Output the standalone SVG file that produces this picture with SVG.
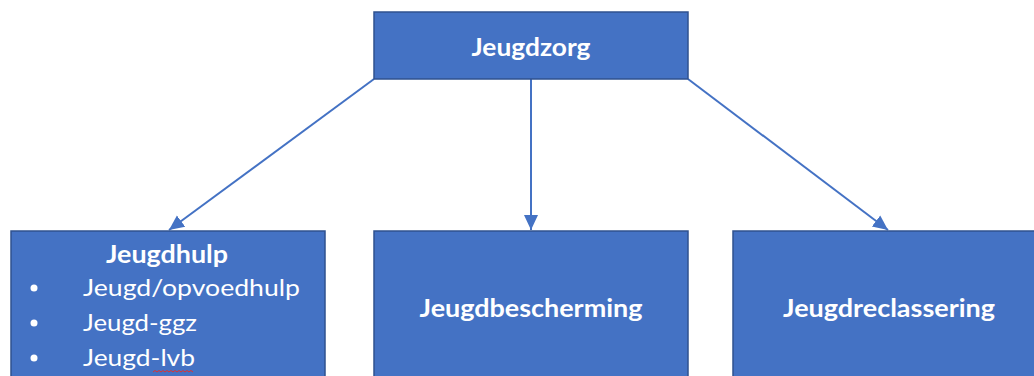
<svg xmlns="http://www.w3.org/2000/svg" width="1034" height="376" viewBox="0 0 1034 376">
<style>
.box{fill:#4472C4;stroke:#2F528F;stroke-width:1.5}
.t{font-family:Lato,"Open Sans","Liberation Sans",sans-serif;fill:#fff;font-size:24px}
.b{font-weight:bold}
.c{stroke:#4472C4;stroke-width:2;fill:none}
</style>
<defs>
<marker id="ah" markerUnits="userSpaceOnUse" markerWidth="16" markerHeight="16" viewBox="0 0 16 16" refX="15" refY="8" orient="auto">
<path d="M0,1 L15,8 L0,15 Z" fill="#4472C4"/>
</marker>
</defs>
<rect width="1034" height="376" fill="#fff"/>
<g id="connectors">
<line class="c" x1="374" y1="79" x2="169" y2="230" marker-end="url(#ah)"/>
<line class="c" x1="531" y1="79" x2="531" y2="230" marker-end="url(#ah)"/>
<line class="c" x1="688" y1="79" x2="888" y2="230" marker-end="url(#ah)"/>
</g>
<g id="jeugdzorg">
<rect class="box" x="374" y="12" width="314" height="67"/>
<text class="t b" x="531" y="56" text-anchor="middle" textLength="119" lengthAdjust="spacingAndGlyphs">Jeugdzorg</text>
</g>
<g id="jeugdhulp">
<rect class="box" x="11" y="231" width="314" height="160"/>
<text class="t b" x="167" y="263" text-anchor="middle" textLength="122" lengthAdjust="spacingAndGlyphs">Jeugdhulp</text>
<circle cx="34" cy="288" r="3.5" fill="#fff"/>
<circle cx="34" cy="323" r="3.5" fill="#fff"/>
<circle cx="34" cy="358" r="3.5" fill="#fff"/>
<text class="t" x="83" y="296" textLength="217" lengthAdjust="spacingAndGlyphs">Jeugd/opvoedhulp</text>
<text class="t" x="83" y="331" textLength="114" lengthAdjust="spacingAndGlyphs">Jeugd-ggz</text>
<text class="t" x="83" y="366" textLength="112" lengthAdjust="spacingAndGlyphs">Jeugd-lvb</text>
<path d="M153,372 l2,-1.5 l2,1.5 l2,-1.5 l2,1.5 l2,-1.5 l2,1.5 l2,-1.5 l2,1.5 l2,-1.5 l2,1.5 l2,-1.5 l2,1.5 l2,-1.5 l2,1.5 l2,-1.5 l2,1.5 l2,-1.5 l2,1.5 l2,-1.5 l2,1.5" fill="none" stroke="#E03030" stroke-width="1"/>
</g>
<g id="jeugdbescherming">
<rect class="box" x="374" y="231" width="314" height="160"/>
<text class="t b" x="531" y="317" text-anchor="middle" textLength="223" lengthAdjust="spacingAndGlyphs">Jeugdbescherming</text>
</g>
<g id="jeugdreclassering">
<rect class="box" x="733" y="231" width="314" height="160"/>
<text class="t b" x="889" y="317" text-anchor="middle" textLength="212" lengthAdjust="spacingAndGlyphs">Jeugdreclassering</text>
</g>
</svg>
